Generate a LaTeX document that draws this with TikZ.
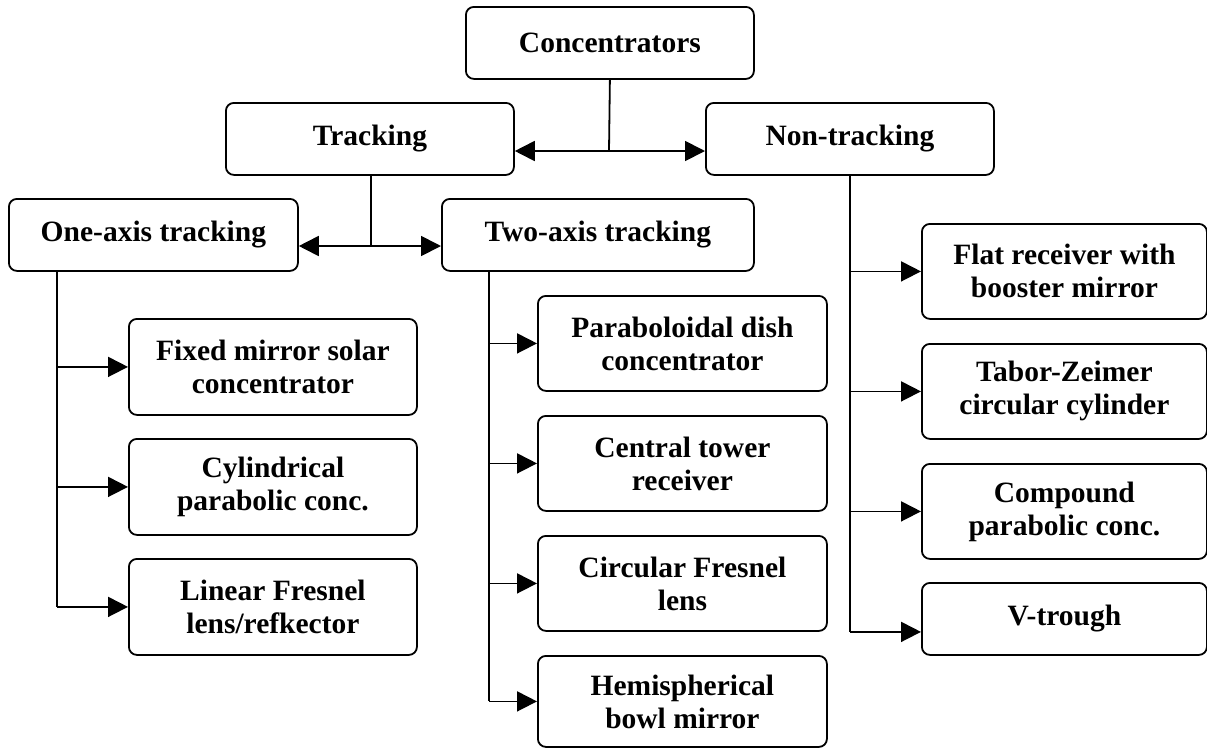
\documentclass[tikz,border=0pt]{standalone}
\usepackage{fontspec}
\setmainfont{Liberation Serif}
\usetikzlibrary{arrows.meta}
\begin{document}
\begin{tikzpicture}[x=1pt,y=-1pt,
  box/.style={draw, line width=1.8pt, rounded corners=8pt, anchor=north west,
    align=center, inner sep=2pt, font=\fontsize{29.5}{33}\selectfont\bfseries},
  conn/.style={line width=1.8pt},
  arr/.style={line width=1.8pt, -{Triangle[length=20pt,width=20pt]}}]
\fill[white] (0,0) rectangle (1207,748);
\useasboundingbox (0,0) rectangle (1207,748);
% top levels
\node[box, minimum width=288pt, minimum height=72pt] (conc) at (465,6) {Concentrators};
\node[box, minimum width=288pt, minimum height=72pt] (track) at (225,102) {Tracking};
\node[box, minimum width=288pt, minimum height=72pt] (nontrack) at (705,102) {Non-tracking};
\node[box, minimum width=289pt, minimum height=72pt] (one) at (8,198) {One-axis tracking};
\node[box, minimum width=312pt, minimum height=72pt] (two) at (441,198) {Two-axis tracking};
% one-axis children
\node[box, minimum width=288pt, minimum height=96pt] (f1) at (128,318) {Fixed mirror solar\\concentrator};
\node[box, minimum width=288pt, minimum height=96pt] (f2) at (128,438) {Cylindrical\\parabolic conc.};
\node[box, minimum width=288pt, minimum height=96pt] (f3) at (128,558) {Linear Fresnel\\lens/refkector};
% two-axis children
\node[box, minimum width=289pt, minimum height=95pt] (m1) at (537,295) {Paraboloidal dish\\concentrator};
\node[box, minimum width=289pt, minimum height=95pt] (m2) at (537,415) {Central tower\\receiver};
\node[box, minimum width=289pt, minimum height=95pt] (m3) at (537,535) {Circular Fresnel\\lens};
\node[box, minimum width=289pt, minimum height=91pt] (m4) at (537,655) {Hemispherical\\bowl mirror};
% non-tracking children
\node[box, minimum width=285pt, minimum height=95pt] (r1) at (921,223) {Flat receiver with\\booster mirror};
\node[box, minimum width=285pt, minimum height=95pt] (r2) at (921,343) {Tabor-Zeimer\\circular cylinder};
\node[box, minimum width=285pt, minimum height=95pt] (r3) at (921,463) {Compound\\parabolic conc.};
\node[box, minimum width=285pt, minimum height=72pt] (r4) at (921,582) {V-trough};
% connectors: concentrators
\coordinate (j1) at (609,151);
\draw[conn] (conc.south) -- (j1);
\draw[arr] (j1) -- (j1 -| track.east);
\draw[arr] (j1) -- (j1 -| nontrack.west);
% tracking
\coordinate (tb) at (371,174);
\coordinate (j2) at (371,246);
\draw[conn] (tb) -- (j2);
\draw[arr] (j2) -- (j2 -| one.east);
\draw[arr] (j2) -- (j2 -| two.west);
% one-axis
\coordinate (a1) at (57,270);
\draw[conn] (a1) -- (a1 |- f3.west);
\draw[arr] (a1 |- f1.west) -- (f1.west);
\draw[arr] (a1 |- f2.west) -- (f2.west);
\draw[arr] (a1 |- f3.west) -- (f3.west);
% two-axis
\coordinate (a2) at (489,270);
\draw[conn] (a2) -- (a2 |- m4.west);
\draw[arr] (a2 |- m1.west) -- (m1.west);
\draw[arr] (a2 |- m2.west) -- (m2.west);
\draw[arr] (a2 |- m3.west) -- (m3.west);
\draw[arr] (a2 |- m4.west) -- (m4.west);
% non-tracking
\coordinate (r4in) at ([yshift=-13pt]r4.west);
\draw[conn] (nontrack.south) -- (nontrack.south |- r4in);
\draw[arr] (nontrack.south |- r1.west) -- (r1.west);
\draw[arr] (nontrack.south |- r2.west) -- (r2.west);
\draw[arr] (nontrack.south |- r3.west) -- (r3.west);
\draw[arr] (nontrack.south |- r4in) -- (r4in);
\end{tikzpicture}
\end{document}
